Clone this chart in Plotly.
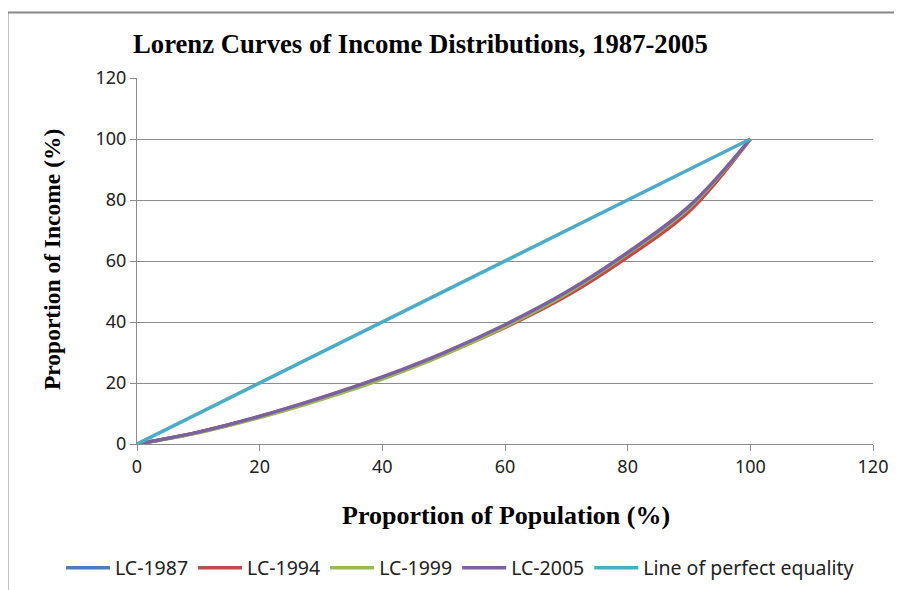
import plotly.graph_objects as go

population = [0, 10, 20, 30, 40, 50, 60, 70, 80, 90, 100]
lc_1987 = [0, 3.8, 8.9, 14.9, 21.7, 29.5, 38.6, 49.2, 62.2, 77.2, 100]
lc_1994 = [0, 3.9, 9.0, 15.0, 21.8, 29.4, 38.2, 48.5, 61.3, 76.2, 100]
lc_1999 = [0, 3.7, 8.7, 14.6, 21.3, 29.2, 38.5, 49.3, 62.4, 77.4, 100]
lc_2005 = [0, 3.9, 9.1, 15.2, 22.0, 29.9, 39.1, 49.8, 62.8, 77.9, 100]
equality_x = [0, 100]
equality_y = [0, 100]

series = [
    ("LC-1987", population, lc_1987, "#4A7EBB"),
    ("LC-1994", population, lc_1994, "#BE4B48"),
    ("LC-1999", population, lc_1999, "#98B954"),
    ("LC-2005", population, lc_2005, "#7D60A0"),
    ("Line of perfect equality", equality_x, equality_y, "#4BACC6"),
]

fig = go.Figure()
for name, xs, ys, color in series:
    fig.add_trace(go.Scatter(x=xs, y=ys, name=name, mode="lines",
                             line=dict(color=color, width=3.5, shape="spline", smoothing=1)))

grid = "#8C8C8C"
tickfont = dict(family="Noto Sans", size=18, color="#222222")
serif = "Liberation Serif"

# page offset of 8px (body margin)
OFF = 8
W, H = 902 - OFF, 590 - OFF
L, R, T, B = 137 - OFF, 29, 78 - OFF, 146
pw, ph = W - L - R, H - T - B

def px(xp):
    return (xp - OFF - L) / pw

def py(yp):
    return (H - B - (yp - OFF)) / ph

fig.update_layout(
    width=W, height=H,
    margin=dict(l=L, r=R, t=T, b=B, autoexpand=False),
    paper_bgcolor="white", plot_bgcolor="white",
    showlegend=True,
    legend=dict(orientation="h", xref="paper", yref="paper",
                x=px(61), y=py(568), xanchor="left", yanchor="middle",
                font=dict(family="Noto Sans", size=19.5, color="#222222"),
                itemwidth=44, tracegroupgap=0),
    xaxis=dict(range=[0, 120], dtick=20, tick0=0, showgrid=False, showline=True,
               linecolor=grid, linewidth=1, ticks="outside", ticklen=6, tickcolor=grid,
               tickfont=tickfont, zeroline=False, fixedrange=True),
    yaxis=dict(range=[0, 120], dtick=20, tick0=0, showgrid=True, gridcolor=grid, gridwidth=1,
               showline=True, linecolor=grid, linewidth=1, ticks="outside", ticklen=6,
               tickcolor=grid, tickfont=tickfont, zeroline=False, fixedrange=True),
    annotations=[
        dict(text="<b>Lorenz Curves of Income Distributions, 1987-2005</b>", xref="paper", yref="paper",
             x=px(131), y=py(44), xanchor="left", yanchor="middle", showarrow=False,
             font=dict(family=serif, size=26.7, color="black")),
        dict(text="<b>Proportion of Population (%)</b>", xref="paper", yref="paper",
             x=px(506), y=py(515), xanchor="center", yanchor="middle", showarrow=False,
             font=dict(family=serif, size=26, color="black")),
        dict(text="<b>Proportion of Income (%)</b>", xref="paper", yref="paper",
             x=px(52), y=py(260), xanchor="center", yanchor="middle", showarrow=False,
             textangle=-90, font=dict(family=serif, size=23.5, color="black")),
    ],
    shapes=[
        dict(type="line", xref="paper", yref="paper", x0=px(7.5), x1=px(910), y0=py(12.5), y1=py(12.5),
             line=dict(color="#878787", width=2)),
        dict(type="line", xref="paper", yref="paper", x0=px(7.5), x1=px(7.5), y0=py(12.5), y1=py(600),
             line=dict(color="#878787", width=2)),
    ],
)

fig.write_html("out.html")
